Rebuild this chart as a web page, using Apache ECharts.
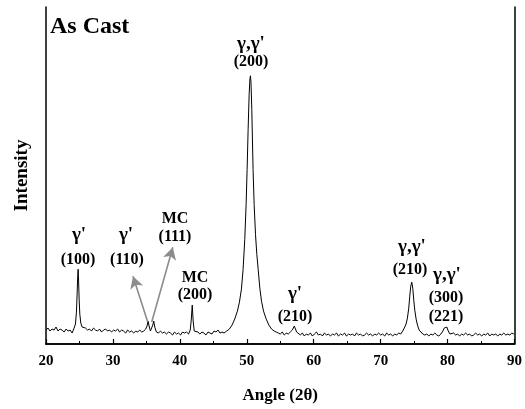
<!DOCTYPE html>
<html>
<head>
<meta charset="utf-8">
<script src="https://cdn.jsdelivr.net/npm/echarts@6/dist/echarts.min.js"></script>
<style>
  html, body { margin: 0; padding: 0; background: #fff; }
  #xrd { width: 525px; height: 409px; }
</style>
</head>
<body>
<div id="xrd"></div>
<script>
// ---------------- data: XRD pattern, [2θ, intensity] ----------------
const lowAngle = [
  [20.0, 14], [20.3, 16], [20.6, 13], [20.9, 15], [21.2, 14], [21.5, 17], [21.8, 13], [22.1, 15],
  [22.4, 14], [22.7, 12], [23.0, 15], [23.3, 13], [23.6, 14], [23.9, 11], [24.2, 16],
  [24.4, 20], [24.55, 32], [24.65, 50], [24.75, 70], [24.8, 75], [24.85, 68], [24.95, 45],
  [25.05, 30], [25.2, 21], [25.4, 17], [25.6, 15], [25.9, 16],
  [26.2, 14], [26.5, 15], [26.8, 13], [27.1, 16], [27.4, 14], [27.7, 13], [28.0, 15], [28.3, 12],
  [28.6, 14], [28.9, 15], [29.2, 13], [29.5, 14], [29.8, 12], [30.1, 14], [30.4, 13], [30.7, 15],
  [31.0, 12], [31.3, 14], [31.6, 13], [31.9, 11], [32.2, 14], [32.5, 12], [32.8, 13], [33.1, 11],
  [33.4, 13], [33.7, 12], [34.0, 14], [34.3, 12], [34.6, 13], [34.9, 15],
  [35.1, 18], [35.25, 23], [35.4, 18], [35.6, 13], [35.8, 14], [35.95, 19], [36.1, 23],
  [36.25, 17], [36.5, 12], [36.8, 11],
  [37.1, 13], [37.4, 11], [37.7, 12], [38.0, 10], [38.3, 12], [38.6, 11], [38.9, 9], [39.2, 12],
  [39.5, 10], [39.8, 11], [40.1, 9], [40.4, 12], [40.7, 11], [41.0, 12], [41.3, 10], [41.55, 14],
  [41.7, 24], [41.85, 39], [42.0, 22], [42.15, 13], [42.4, 11], [42.7, 12],
  [43.0, 10], [43.3, 12], [43.6, 11], [43.9, 9], [44.2, 12], [44.5, 11], [44.8, 10], [45.1, 13],
  [45.4, 12], [45.7, 14], [46.0, 11], [46.3, 12], [46.6, 11]
];
const mainPeak = [
  [47.0, 13], [47.4, 15], [47.8, 19], [48.2, 25], [48.6, 33], [48.9, 42], [49.2, 55], [49.45, 75],
  [49.7, 105], [49.9, 140], [50.05, 175], [50.2, 215], [50.35, 250], [50.47, 266], [50.55, 269],
  [50.63, 262], [50.75, 235], [50.94, 175], [51.1, 140], [51.3, 110], [51.5, 90], [51.7, 75],
  [51.95, 56], [52.2, 43], [52.5, 33], [52.9, 25], [53.3, 19], [53.7, 15], [54.1, 13], [54.4, 12]
];
const highAngle = [
  [54.7, 11], [55.0, 10], [55.3, 12], [55.6, 9], [55.9, 11], [56.2, 10], [56.5, 12], [56.8, 14],
  [56.95, 16], [57.1, 18], [57.25, 17], [57.45, 12], [57.7, 10],
  [58.0, 9], [58.3, 11], [58.6, 8], [58.9, 10], [59.2, 9], [59.5, 11], [59.8, 8], [60.1, 10],
  [60.4, 12], [60.7, 9], [61.0, 10], [61.3, 8], [61.6, 11], [61.9, 9], [62.2, 10], [62.5, 8],
  [62.8, 10], [63.1, 9], [63.4, 11], [63.7, 8], [64.0, 10], [64.3, 9], [64.6, 11], [64.9, 8],
  [65.2, 10], [65.5, 9], [65.8, 10], [66.1, 8], [66.4, 11], [66.7, 9], [67.0, 10], [67.3, 8],
  [67.6, 9], [67.9, 11], [68.2, 9], [68.5, 10], [68.8, 8], [69.1, 10], [69.4, 9], [69.7, 11],
  [70.0, 9], [70.3, 10], [70.6, 8], [70.9, 11], [71.2, 9], [71.5, 10], [71.8, 8], [72.1, 10],
  [72.4, 9], [72.7, 11], [73.0, 10], [73.3, 13], [73.6, 17],
  [73.8, 20], [74.0, 26], [74.2, 36], [74.35, 48], [74.5, 58], [74.65, 62], [74.8, 56],
  [74.95, 44], [75.1, 34], [75.3, 25], [75.5, 19], [75.75, 14], [76.0, 12],
  [76.3, 10], [76.6, 9], [76.9, 10], [77.2, 8], [77.5, 10], [77.8, 9], [78.1, 11], [78.4, 9],
  [78.7, 8], [79.0, 10], [79.3, 13], [79.5, 16], [79.7, 18], [79.9, 17], [80.1, 13], [80.35, 10],
  [80.6, 9], [80.9, 11], [81.2, 9], [81.5, 10], [81.8, 8], [82.1, 10], [82.4, 9], [82.7, 11],
  [83.0, 9], [83.3, 10], [83.6, 8], [83.9, 9], [84.2, 11], [84.5, 9], [84.8, 10], [85.1, 8],
  [85.4, 10], [85.7, 9], [86.0, 11], [86.3, 8], [86.6, 10], [86.9, 9], [87.2, 10], [87.5, 8],
  [87.8, 10], [88.1, 9], [88.4, 11], [88.7, 9], [89.0, 10], [89.3, 9], [89.6, 11], [89.9, 10],
  [90.0, 10]
];

// 峰标注：文字 + 像素位置 (big: γ 行字号大一点)
const peakLabels = [
  { text: "γ,γ'", x: 251, y: 44, big: true }, { text: '(200)', x: 251, y: 62 },
  { text: "γ'", x: 79, y: 235, big: true }, { text: '(100)', x: 78, y: 260 },
  { text: "γ'", x: 126, y: 235, big: true }, { text: '(110)', x: 127, y: 260 },
  { text: 'MC', x: 175, y: 219 }, { text: '(111)', x: 175, y: 237 },
  { text: 'MC', x: 195, y: 278 }, { text: '(200)', x: 195, y: 295 },
  { text: "γ'", x: 295, y: 294, big: true }, { text: '(210)', x: 295, y: 317 },
  { text: "γ,γ'", x: 412, y: 247, big: true }, { text: '(210)', x: 410, y: 270 },
  { text: "γ,γ'", x: 447, y: 275, big: true }, { text: '(300)', x: 446, y: 298 }, { text: '(221)', x: 446, y: 317 }
];
// 箭头 (2θ, intensity)
const arrows = [
  [[35.2, 22], [33.0, 68]],
  [[35.8, 22], [38.95, 97]]
];

const trace = lowAngle.concat(mainPeak, highAngle);
const serif = '"Liberation Serif", "Times New Roman", serif';

let myChart = echarts.init(document.querySelector('#xrd'));
let option = {
  animation: false,
  grid: { left: 46, right: 10, top: 7, bottom: 64 },
  xAxis: [
    {
      type: 'value',
      min: 20, max: 90, interval: 10,
      name: 'Angle (2θ)',
      nameLocation: 'middle',
      nameGap: 43,
      nameTextStyle: { fontFamily: serif, fontWeight: 'bold', fontSize: 17, color: '#000' },
      axisLine: { lineStyle: { color: '#000', width: 1.5 } },
      axisTick: { inside: true, length: 5, lineStyle: { color: '#000', width: 1.2 } },
      minorTick: { show: true, splitNumber: 2, length: 3, lineStyle: { color: '#000', width: 1 } },
      axisLabel: { fontFamily: serif, fontWeight: 'bold', fontSize: 15, color: '#000', margin: 10 },
      splitLine: { show: false }
    },
    {
      type: 'value', position: 'top', min: 20, max: 90,
      axisLine: { show: true, lineStyle: { color: '#000', width: 1.5 } },
      axisTick: { show: false }, axisLabel: { show: false }, splitLine: { show: false }
    }
  ],
  yAxis: [
    {
      type: 'value',
      min: 0, max: 338,
      name: 'Intensity',
      nameLocation: 'middle',
      nameGap: 14,
      nameTextStyle: { fontFamily: serif, fontWeight: 'bold', fontSize: 19, color: '#000' },
      axisLine: { show: true, lineStyle: { color: '#000', width: 1.5 } },
      axisTick: { show: false }, axisLabel: { show: false }, splitLine: { show: false }
    },
    {
      type: 'value', position: 'right', min: 0, max: 338,
      axisLine: { show: true, lineStyle: { color: '#000', width: 1.5 } },
      axisTick: { show: false }, axisLabel: { show: false }, splitLine: { show: false }
    }
  ],
  series: [
    {
      type: 'line',
      data: trace,
      showSymbol: false,
      lineStyle: { color: '#000', width: 1 },
      markLine: {
        silent: true,
        symbol: ['none', 'arrow'],
        symbolSize: [10, 12],
        label: { show: false },
        lineStyle: { color: '#8c8c8c', width: 1.6, type: 'solid' },
        data: arrows.map(a => [{ coord: a[0] }, { coord: a[1] }])
      }
    }
  ],
  graphic: [
    {
      type: 'text', left: 50, top: 15,
      style: { text: 'As Cast', font: 'bold 24px ' + serif, fill: '#000' }
    }
  ].concat(peakLabels.map(p => ({
    type: 'text', x: p.x, y: p.y,
    style: {
      text: p.text, font: 'bold ' + (p.big ? 19 : 16) + 'px ' + serif,
      fill: '#000', align: 'center', verticalAlign: 'middle'
    }
  })))
};
myChart.setOption(option);
</script>
</body>
</html>
